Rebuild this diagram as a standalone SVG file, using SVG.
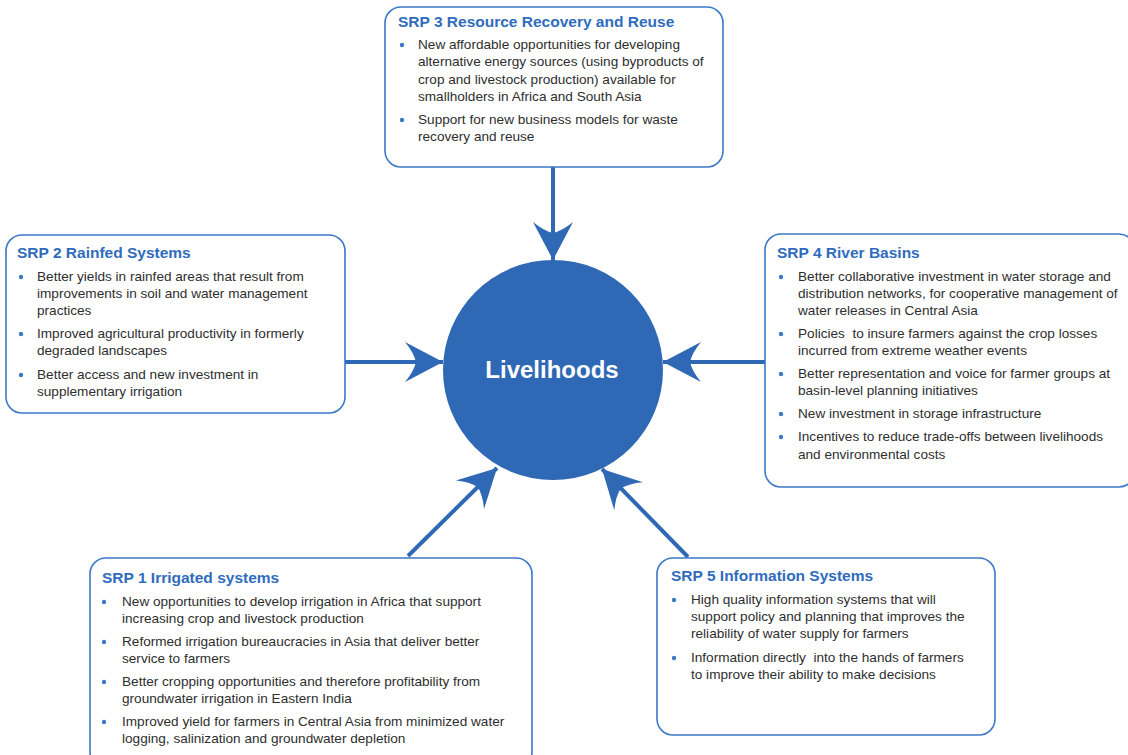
<svg xmlns="http://www.w3.org/2000/svg" width="1128" height="755" viewBox="0 0 1128 755">
<style>
.box{fill:#ffffff;stroke:#3a78c8;stroke-width:1.6}
.t{font-family:"Liberation Sans",Arial,sans-serif;font-weight:bold;font-size:15.5px;fill:#2f6cbd}
.b{font-family:"Liberation Sans",Arial,sans-serif;font-size:13.6px;fill:#2e2e2e}
.dot{fill:#3a78c8}
.conn{stroke:#2f68b5;stroke-width:4;fill:none}
</style>
<defs>
<marker id="ah" markerUnits="userSpaceOnUse" markerWidth="44" markerHeight="44" viewBox="-40 -22 42 44" refX="0" refY="0" orient="auto">
<path d="M0,0 L-38,-20 Q-29,-9 -27,0 Q-29,9 -38,20 Z" fill="#2f68b5"/>
</marker>
</defs>
<rect width="1128" height="755" fill="#ffffff"/>
<g id="connectors">
<line class="conn" x1="553" y1="167" x2="553" y2="260" marker-end="url(#ah)"/>
<line class="conn" x1="345" y1="362" x2="443" y2="362" marker-end="url(#ah)"/>
<line class="conn" x1="765" y1="362" x2="663" y2="362" marker-end="url(#ah)"/>
<line class="conn" x1="408" y1="556" x2="497" y2="468" marker-end="url(#ah)"/>
<line class="conn" x1="688" y1="557" x2="602" y2="469" marker-end="url(#ah)"/>
</g>
<g id="livelihoods">
<circle cx="553" cy="370" r="110" fill="#2f68b5"/>
<text x="552" y="378" text-anchor="middle" font-family="Liberation Sans,Arial,sans-serif" font-weight="bold" font-size="24" fill="#ffffff">Livelihoods</text>
</g>
<g id="srp3">
<rect class="box" x="385" y="7" width="338" height="160" rx="16"/>
<text class="t" x="398" y="27">SRP 3 Resource Recovery and Reuse</text>
<circle class="dot" cx="402" cy="45" r="2.2"/>
<circle class="dot" cx="402" cy="120" r="2.2"/>
<text class="b" x="418" y="49">New affordable opportunities for developing</text>
<text class="b" x="418" y="66">alternative energy sources (using byproducts of</text>
<text class="b" x="418" y="84">crop and livestock production) available for</text>
<text class="b" x="418" y="101">smallholders in Africa and South Asia</text>
<text class="b" x="418" y="124">Support for new business models for waste</text>
<text class="b" x="418" y="141">recovery and reuse</text>
</g>
<g id="srp2">
<rect class="box" x="6" y="235" width="339" height="178" rx="16"/>
<text class="t" x="17" y="258">SRP 2 Rainfed Systems</text>
<circle class="dot" cx="21" cy="277" r="2.2"/>
<circle class="dot" cx="21" cy="334" r="2.2"/>
<circle class="dot" cx="21" cy="375" r="2.2"/>
<text class="b" x="37" y="281">Better yields in rainfed areas that result from</text>
<text class="b" x="37" y="298">improvements in soil and water management</text>
<text class="b" x="37" y="315">practices</text>
<text class="b" x="37" y="338">Improved agricultural productivity in formerly</text>
<text class="b" x="37" y="355">degraded landscapes</text>
<text class="b" x="37" y="379">Better access and new investment in</text>
<text class="b" x="37" y="396">supplementary irrigation</text>
</g>
<g id="srp4">
<rect class="box" x="765" y="234" width="370" height="253" rx="16"/>
<text class="t" x="777" y="258">SRP 4 River Basins</text>
<circle class="dot" cx="781" cy="277" r="2.2"/>
<circle class="dot" cx="781" cy="334" r="2.2"/>
<circle class="dot" cx="781" cy="374" r="2.2"/>
<circle class="dot" cx="781" cy="414" r="2.2"/>
<circle class="dot" cx="781" cy="437" r="2.2"/>
<text class="b" x="798" y="281">Better collaborative investment in water storage and</text>
<text class="b" x="798" y="298">distribution networks, for cooperative management of</text>
<text class="b" x="798" y="315">water releases in Central Asia</text>
<text class="b" x="798" y="338">Policies&#160; to insure farmers against the crop losses</text>
<text class="b" x="798" y="355">incurred from extreme weather events</text>
<text class="b" x="798" y="378">Better representation and voice for farmer groups at</text>
<text class="b" x="798" y="395">basin-level planning initiatives</text>
<text class="b" x="798" y="418">New investment in storage infrastructure</text>
<text class="b" x="798" y="441">Incentives to reduce trade-offs between livelihoods</text>
<text class="b" x="798" y="459">and environmental costs</text>
</g>
<g id="srp1">
<rect class="box" x="90" y="558" width="442" height="210" rx="16"/>
<text class="t" x="102" y="583">SRP 1 Irrigated systems</text>
<circle class="dot" cx="104" cy="602" r="2.2"/>
<circle class="dot" cx="104" cy="642" r="2.2"/>
<circle class="dot" cx="104" cy="682" r="2.2"/>
<circle class="dot" cx="104" cy="722" r="2.2"/>
<text class="b" x="122" y="606">New opportunities to develop irrigation in Africa that support</text>
<text class="b" x="122" y="623">increasing crop and livestock production</text>
<text class="b" x="122" y="646">Reformed irrigation bureaucracies in Asia that deliver better</text>
<text class="b" x="122" y="663">service to farmers</text>
<text class="b" x="122" y="686">Better cropping opportunities and therefore profitability from</text>
<text class="b" x="122" y="703">groundwater irrigation in Eastern India</text>
<text class="b" x="122" y="726">Improved yield for farmers in Central Asia from minimized water</text>
<text class="b" x="122" y="743">logging, salinization and groundwater depletion</text>
</g>
<g id="srp5">
<rect class="box" x="657" y="558" width="338" height="177" rx="16"/>
<text class="t" x="671" y="581">SRP 5 Information Systems</text>
<circle class="dot" cx="674" cy="600" r="2.2"/>
<circle class="dot" cx="674" cy="658" r="2.2"/>
<text class="b" x="691" y="604">High quality information systems that will</text>
<text class="b" x="691" y="621">support policy and planning that improves the</text>
<text class="b" x="691" y="638">reliability of water supply for farmers</text>
<text class="b" x="691" y="662">Information directly&#160; into the hands of farmers</text>
<text class="b" x="691" y="679">to improve their ability to make decisions</text>
</g>
</svg>
